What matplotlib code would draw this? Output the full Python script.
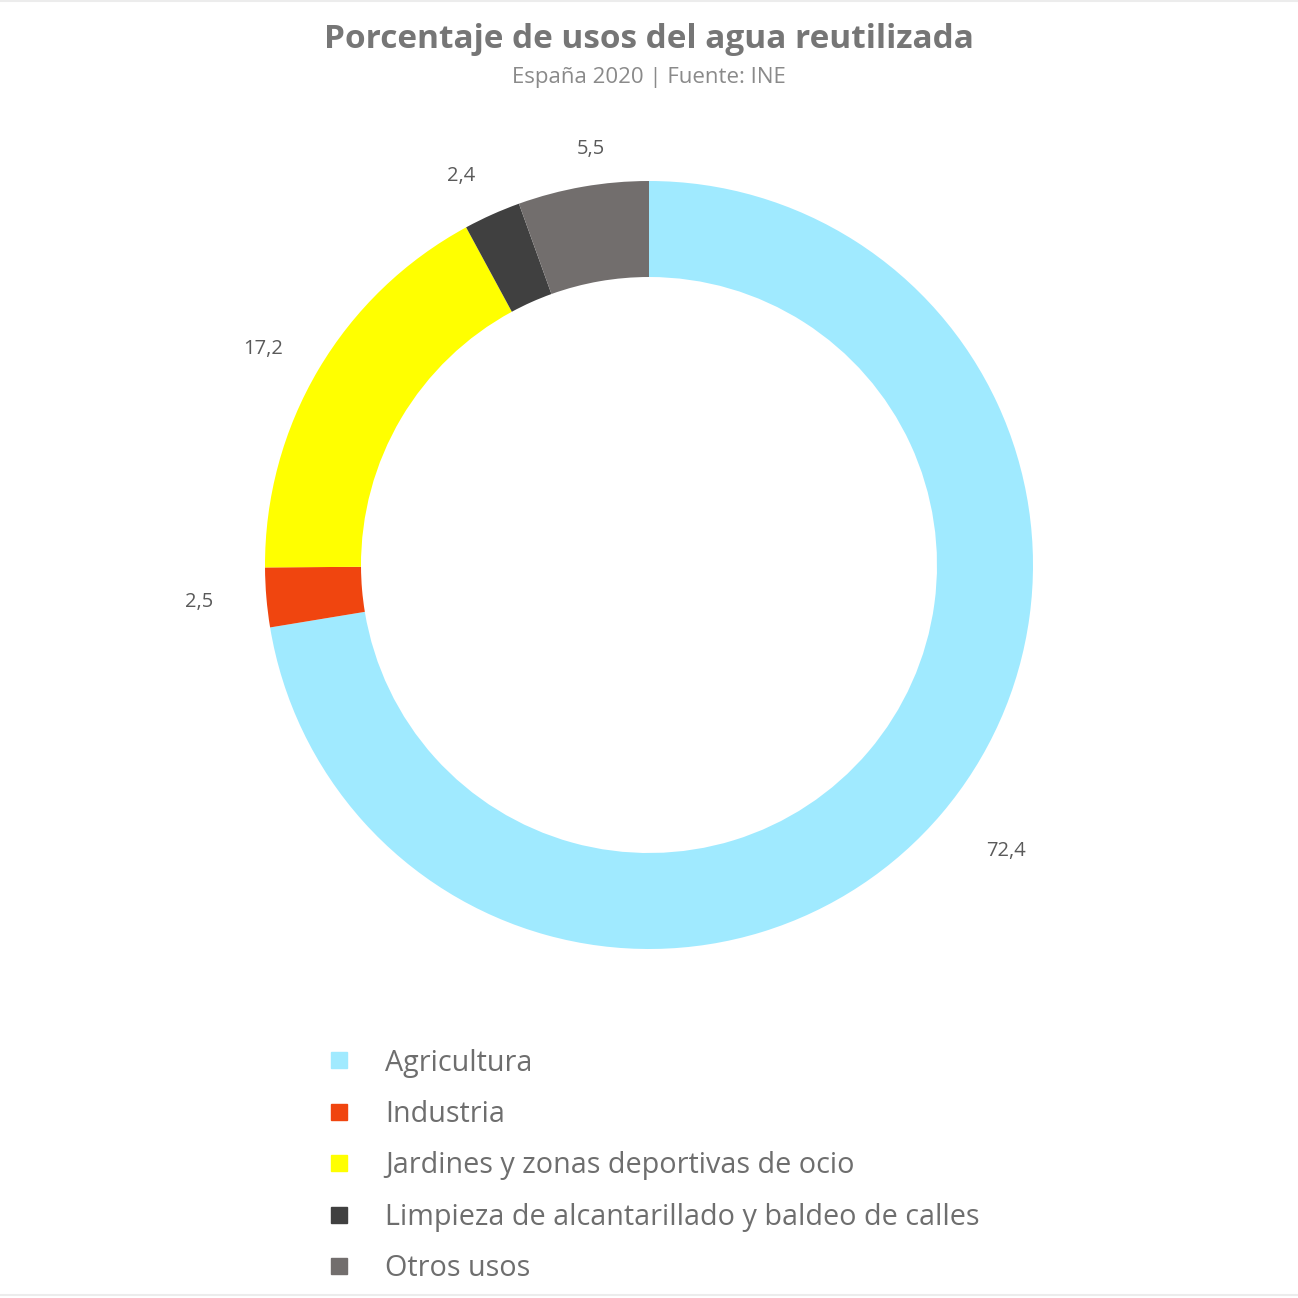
import numpy as np
import matplotlib
matplotlib.use("Agg")
from matplotlib import pyplot as plt
from matplotlib.lines import Line2D

# datos (INE, España 2020)
categorias = ["Agricultura", "Industria", "Jardines y zonas deportivas de ocio",
              "Limpieza de alcantarillado y baldeo de calles", "Otros usos"]
valores = [72.4, 2.5, 17.2, 2.4, 5.5]
colores = ["#A0EAFF", "#F0450F", "#FFFF00", "#404040", "#726E6D"]
etiquetas = [f"{v:.1f}".replace(".", ",") for v in valores]
# distancia y alineación de cada etiqueta
dist_etiqueta = [1.15, 1.14, 1.107, 1.11, 1.10]
alin_etiqueta = ['left', 'right', 'right', 'right', 'left']

plt.rcParams['font.family'] = ['Open Sans', 'DejaVu Sans']

W = 1298
fig = plt.figure(figsize=(W / 100, W / 100), dpi=100)

# ejes cuadrados: radio 1 = 384 px, centro en (649, 565)
cx, cy, half = 649, 565, 500
ax = fig.add_axes([(cx - half) / W, (W - cy - half) / W, 2 * half / W, 2 * half / W])

wedges, _ = ax.pie(valores, colors=colores, startangle=90, counterclock=False,
                   radius=1, wedgeprops=dict(width=0.25, linewidth=0))
lim = half / 384
ax.set_xlim(-lim, lim)
ax.set_ylim(-lim, lim)
ax.set_aspect('equal')
ax.axis('off')

# etiquetas de valor fuera del anillo
for w, txt, d, ha in zip(wedges, etiquetas, dist_etiqueta, alin_etiqueta):
    ang = np.deg2rad((w.theta1 + w.theta2) / 2)
    ax.text(d * np.cos(ang), d * np.sin(ang), txt, ha=ha, va='center',
            fontsize=14.5, color='#5a5a5a')

# títulos
fig.text(0.5, 1 - 40 / W, "Porcentaje de usos del agua reutilizada", ha='center', va='center',
         fontsize=24, fontweight='bold', color='#767676')
fig.text(0.5, 1 - 78 / W, "España 2020 | Fuente: INE", ha='center', va='center',
         fontsize=16, color='#8a8a8a')

# leyenda
handles = [Line2D([0], [0], marker='s', linestyle='none', markersize=11,
                  markerfacecolor=c, markeredgecolor=c) for c in colores]
leg = fig.legend(handles, categorias, loc='upper left',
                 bbox_to_anchor=(313 / W, 1 - 1037 / W), frameon=False,
                 fontsize=20.7, labelspacing=0.78, handlelength=1.0, handletextpad=1.1,
                 borderaxespad=0)
for t in leg.get_texts():
    t.set_color('#6e6e6e')

# bordes finos arriba y abajo
fig.add_artist(Line2D([0, 1], [1 - 1 / W, 1 - 1 / W], color='#ececec', lw=1.5))
fig.add_artist(Line2D([0, 1], [3 / W, 3 / W], color='#ececec', lw=1.5))

fig.savefig("out.png", dpi=100, facecolor='white')
